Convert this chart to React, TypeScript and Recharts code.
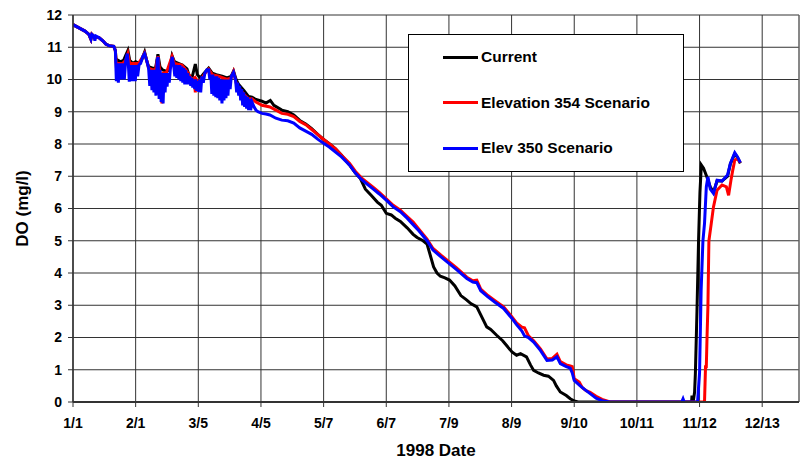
import React from 'react';
import { LineChart, Line, XAxis, YAxis, CartesianGrid, ReferenceLine } from 'recharts';

// [day of 1998 (0 = Jan 1), DO mg/l]
const current: [number, number][] = [
  [0, 11.7], [3, 11.6], [6, 11.5], [8, 11.4], [9, 11.25], [9.5, 11.4], [11, 11.3], [13, 11.3], [15, 11.2],
  [16.5, 11.1], [18, 11.05], [20.5, 11.03], [21.3, 10.9], [21.8, 10.5], [22.5, 10.6], [24, 10.55], [25.5, 10.6],
  [26.5, 10.75], [27.6, 10.9], [28.5, 10.6], [30, 10.5], [31.5, 10.55], [33, 10.5], [34.5, 10.6], [36, 10.85],
  [37, 10.6], [38, 10.4], [40, 10.35], [41.5, 10.35], [42.7, 10.78], [43.7, 10.4], [45, 10.3], [47, 10.25],
  [48.5, 10.3], [49.8, 10.74], [51, 10.55], [53, 10.5], [55, 10.45], [57.3, 10.33], [58.5, 10.1], [60, 10.1],
  [61.5, 10.48], [62.5, 10.15], [64, 10.05], [66, 10.2], [68.2, 10.35], [70, 10.2], [72, 10.15], [75, 10.1],
  [77.4, 10.05], [79.5, 10.1], [80.7, 10.26], [82, 10.0], [83.2, 9.85], [85.8, 9.67], [88.3, 9.47], [90, 9.45],
  [92, 9.38], [95, 9.33], [97, 9.27], [99.2, 9.35], [101, 9.2], [105, 9.05], [108, 9.0], [111, 8.9], [114, 8.73],
  [117, 8.62], [120, 8.48], [123, 8.3], [126, 8.14], [129, 8.0], [132, 7.85], [135, 7.65], [139, 7.35], [142, 7.1],
  [144.5, 6.93], [147, 6.6], [150, 6.4], [153, 6.2], [155, 6.1], [157.5, 5.85], [160, 5.8], [162, 5.7],
  [164.6, 5.6], [168, 5.4], [171, 5.2], [173, 5.1], [176, 5.0], [178, 4.9], [181.3, 4.19], [183, 4.0],
  [184.7, 3.9], [187, 3.85], [189.3, 3.78], [192, 3.6], [195, 3.3], [198, 3.16], [200, 3.05], [203, 2.95],
  [205, 2.7], [208, 2.33], [210, 2.25], [213, 2.07], [216, 1.9], [218, 1.75], [220.7, 1.55], [223, 1.45],
  [225, 1.5], [228, 1.4], [230, 1.15], [231.6, 0.98], [234, 0.9], [236.6, 0.83], [239, 0.8], [241.6, 0.67],
  [243, 0.5], [245, 0.31], [248, 0.2], [250, 0.1], [252, 0.03], [254, 0], [311, 0], [311.2, 0.2], [311.8, 0],
  [312.5, 0.3], [312.9, 0.88], [313.7, 2.8], [314.5, 5.0], [315.2, 6.5], [315.9, 7.35], [317, 7.25],
  [318.7, 6.98], [320.4, 6.67], [322, 6.5], [323.8, 6.85], [326.3, 6.85], [329.1, 7.0], [330.5, 7.38],
  [332.7, 7.7], [334.1, 7.58], [335.5, 7.4],
];

const elev354: [number, number][] = [
  [0, 11.7], [3, 11.6], [6, 11.5], [8, 11.4], [9, 11.25], [9.5, 11.4], [11, 11.3], [13, 11.3], [15, 11.2],
  [16.5, 11.1], [18, 11.05], [20.5, 11.03], [21.3, 10.9], [21.8, 10.4], [23, 10.5], [25, 10.5], [26.5, 10.6],
  [27.6, 10.8], [28.5, 10.5], [31, 10.5], [33, 10.5], [35, 10.7], [36, 10.82], [37, 10.6], [38, 10.35],
  [40, 10.3], [41.5, 10.3], [42.7, 10.72], [43.5, 10.3], [44.7, 9.26], [45.3, 10.2], [47, 10.22], [49.8, 10.72],
  [51, 10.5], [54.8, 10.45], [57.3, 10.25], [59.8, 10.0], [61, 10.05], [61.5, 9.6], [62, 10.0], [63, 9.9],
  [64.9, 10.05], [66.5, 10.2], [68.2, 10.32], [70, 10.15], [73.2, 10.1], [77.4, 10.0], [79.5, 10.05],
  [80.7, 10.24], [82, 9.9], [83.2, 9.75], [85.8, 9.55], [88.3, 9.4], [90, 9.4], [92, 9.3], [95, 9.2],
  [99, 9.15], [102, 9.05], [105, 8.95], [108, 8.92], [111, 8.85], [114, 8.7], [117, 8.6], [120, 8.45],
  [123, 8.3], [126, 8.14], [129, 8.0], [132, 7.85], [135, 7.65], [139, 7.4], [142, 7.15], [145, 6.95],
  [148, 6.8], [151, 6.65], [154, 6.5], [157.5, 6.3], [161, 6.1], [164.6, 5.95], [168, 5.75], [171, 5.58],
  [174, 5.35], [178, 5.05], [181, 4.76], [185, 4.55], [189, 4.35], [193, 4.15], [198, 3.87], [201, 3.76],
  [203, 3.78], [205, 3.5], [208.6, 3.3], [212, 3.15], [216.5, 2.95], [220.7, 2.64], [223, 2.45],
  [225.7, 2.32], [227, 2.3], [229, 2.05], [231.6, 1.9], [235, 1.65], [238.3, 1.33], [241, 1.35],
  [243.3, 1.48], [245, 1.25], [248, 1.15], [250, 1.12], [251, 1.1], [252, 0.72], [254.5, 0.62], [256, 0.45],
  [258, 0.35], [260, 0.3], [263, 0.18], [266, 0.08], [270, 0], [317.5, 0], [318, 1.09], [318.4, 1.09],
  [318.8, 2.1], [319.2, 2.95], [319.7, 5.0], [320.9, 5.54], [322, 6.05], [323.8, 6.57], [326.3, 6.73],
  [328.5, 6.67], [329.6, 6.41], [330.8, 6.88], [331.7, 7.19], [332.7, 7.5], [334.1, 7.55], [335.5, 7.42],
];

const elev350: [number, number][] = [
  [0, 11.7], [3, 11.6], [6, 11.5], [8, 11.4], [9, 11.25], [9.5, 11.4], [10.5, 11.35], [11, 11.2], [11.5, 11.35],
  [13, 11.3], [15, 11.2], [16.5, 11.1], [18, 11.05], [20.5, 11.03], [21.3, 10.9], [21.8, 9.95], [22.3, 10.5],
  [22.8, 9.9], [23.3, 10.5], [23.8, 10.0], [24.3, 10.5], [24.8, 10.0], [25.3, 10.5], [25.8, 10.0], [26.5, 10.6],
  [27.3, 10.8], [27.8, 10.5], [28.3, 9.93], [28.8, 10.45], [29.3, 9.95], [29.8, 10.45], [30.3, 9.95],
  [30.8, 10.45], [31.3, 9.95], [31.8, 10.45], [32.5, 10.1], [33.2, 10.45], [34, 10.5], [35, 10.7], [36, 10.8],
  [37, 10.6], [38, 10.35], [38.6, 9.8], [39.2, 10.3], [39.7, 9.67], [40.2, 10.3], [40.7, 9.6], [41.2, 10.3],
  [41.7, 9.5], [42.3, 10.6], [42.8, 10.7], [43.3, 9.4], [43.8, 10.3], [44.3, 9.3], [44.8, 10.2], [45.3, 9.26],
  [45.8, 10.2], [46.3, 9.6], [46.8, 10.2], [47.3, 9.78], [47.8, 10.2], [48.4, 9.9], [48.9, 10.3], [49.8, 10.7],
  [50.5, 10.5], [51.2, 10.1], [51.7, 10.45], [52.2, 10.05], [52.7, 10.45], [53.2, 10.0], [53.7, 10.45],
  [54.2, 9.95], [54.7, 10.4], [55.2, 9.9], [55.7, 10.35], [56.2, 9.85], [56.7, 10.3], [57.2, 9.85],
  [57.7, 10.2], [58.2, 9.85], [58.7, 10.1], [59.2, 9.8], [59.7, 10.05], [60.2, 9.75], [60.7, 10.0],
  [61.2, 9.7], [61.7, 10.0], [62.2, 9.65], [62.7, 9.95], [63.2, 9.62], [63.7, 10.0], [64.2, 9.6],
  [64.8, 10.1], [65.5, 9.9], [66.3, 10.2], [67.3, 10.3], [68.2, 10.3], [68.8, 10.0], [69.3, 10.15],
  [69.8, 9.55], [70.3, 10.15], [70.8, 9.5], [71.3, 10.1], [71.8, 9.45], [72.3, 10.1], [72.8, 9.42],
  [73.3, 10.05], [73.8, 9.35], [74.3, 10.0], [74.9, 9.26], [75.4, 10.0], [75.9, 9.35], [76.4, 10.0],
  [76.9, 9.42], [77.4, 10.0], [77.9, 9.5], [78.4, 10.0], [79.0, 9.7], [79.6, 10.1], [80.7, 10.22],
  [81.7, 10.0], [82.3, 9.6], [82.8, 9.9], [83.3, 9.5], [83.8, 9.8], [84.3, 9.35], [84.8, 9.7], [85.3, 9.2],
  [85.8, 9.6], [86.3, 9.15], [86.8, 9.5], [87.3, 9.1], [87.8, 9.45], [88.3, 9.05], [88.8, 9.4], [89.3, 9.05],
  [90, 9.3], [91, 9.15], [92, 9.05], [93, 9.0], [95, 8.95], [97, 8.93], [99, 8.9], [102, 8.8], [105, 8.74],
  [108, 8.72], [111, 8.65], [114, 8.5], [117, 8.4], [120, 8.3], [123, 8.15], [126, 8.02], [129, 7.9],
  [132, 7.75], [135, 7.6], [139, 7.35], [142, 7.1], [145, 6.9], [148, 6.75], [151, 6.6], [154, 6.45],
  [157.5, 6.26], [161, 6.05], [164.6, 5.9], [168, 5.7], [171, 5.5], [174, 5.3], [178, 5.0], [181, 4.71],
  [185, 4.5], [189, 4.3], [193, 4.1], [198, 3.83], [201, 3.72], [203, 3.7], [205, 3.45], [208.6, 3.26],
  [212, 3.1], [216.5, 2.9], [220.7, 2.59], [223, 2.4], [225.7, 2.2], [227, 2.05], [229, 2.0], [231.6, 1.86],
  [235, 1.6], [238.3, 1.29], [241, 1.3], [243.3, 1.4], [245, 1.19], [248, 1.1], [250, 1.05], [251, 0.9],
  [252, 0.67], [255, 0.5], [257, 0.4], [260, 0.26], [263, 0.12], [266, 0.04], [270, 0], [306, 0],
  [306.7, 0.1], [307.3, 0], [314, 0], [315, 0.9], [315.8, 3.47], [316.7, 5.0], [317.5, 5.54], [318.4, 6.67],
  [319.2, 6.98], [320.4, 6.6], [322, 6.47], [323.8, 6.88], [326.3, 6.85], [329.1, 7.04], [330.5, 7.4],
  [332.7, 7.73], [334.1, 7.6], [335.5, 7.42],
];

const xTicks = [0, 31.5, 63, 94.5, 126, 157.5, 189, 220.5, 252, 283.5, 315, 346.5];
const xTickLabels = ['1/1', '2/1', '3/5', '4/5', '5/7', '6/7', '7/9', '8/9', '9/10', '10/11', '11/12', '12/13'];
const yTicks = [0, 1, 2, 3, 4, 5, 6, 7, 8, 9, 10, 11, 12];

const seriesNames = ['Current', 'Elevation 354 Scenario', 'Elev 350 Scenario'];
const seriesColors = ['#000000', '#ff0000', '#0000ff'];

const toRows = (arr: [number, number][]) => arr.map(([d, v]) => ({ d, v }));

const FONT = '"Liberation Sans", Arial, Helvetica, sans-serif';

const LegendBox = () => (
  <div
    style={{
      position: 'absolute',
      left: 408,
      top: 34,
      width: 276,
      height: 138,
      boxSizing: 'border-box',
      border: '1px solid #000',
      background: '#fff',
      fontFamily: FONT,
      fontWeight: 'bold',
      fontSize: 15.5,
      color: '#000',
      zIndex: 2,
    }}
  >
    {seriesNames.map((name, i) => (
      <div key={name} style={{ position: 'absolute', left: 34, top: 22 + i * 45.5 - 9, height: 18, display: 'flex', alignItems: 'center' }}>
        <div style={{ width: 35, height: 3, background: seriesColors[i], marginRight: 3 }} />
        <span style={{ whiteSpace: 'nowrap' }}>{name}</span>
      </div>
    ))}
  </div>
);

export default function App() {
  const tickStyle = { fontFamily: FONT, fontWeight: 'bold' as const, fontSize: 14, fill: '#000' };
  return (
    <div style={{ position: 'absolute', left: 0, top: 0, width: 803, height: 461, background: '#fff' }}>
      <LineChart width={803} height={461} margin={{ top: 15, right: 4, bottom: 0, left: 0 }}>
        <CartesianGrid stroke="#333" strokeWidth={1} />
        <XAxis
          type="number"
          dataKey="d"
          domain={[0, 365]}
          ticks={xTicks}
          interval={0}
          tickFormatter={(v: number) => xTickLabels[xTicks.indexOf(v)] ?? ''}
          height={59}
          tickSize={5}
          tickMargin={11}
          tick={tickStyle}
          stroke="#333"
          axisLine={{ stroke: '#333', strokeWidth: 2 }}
          allowDataOverflow
          label={{
            value: '1998 Date',
            position: 'insideBottom',
            offset: 5,
            style: { fontFamily: FONT, fontWeight: 'bold', fontSize: 17, fill: '#000' },
          }}
        />
        <YAxis
          type="number"
          domain={[0, 12]}
          ticks={yTicks}
          interval={0}
          width={73}
          tickSize={5}
          tickMargin={6}
          tick={tickStyle}
          stroke="#333"
          axisLine={{ stroke: '#333', strokeWidth: 1.5 }}
          allowDataOverflow
          label={{
            value: 'DO (mg/l)',
            angle: -90,
            position: 'insideLeft',
            offset: 22,
            style: { fontFamily: FONT, fontWeight: 'bold', fontSize: 17, fill: '#000', textAnchor: 'middle' },
          }}
        />
        <ReferenceLine x={365} stroke="#777" strokeWidth={1} />
        <Line
          data={toRows(current)}
          dataKey="v"
          name={seriesNames[0]}
          type="linear"
          stroke={seriesColors[0]}
          strokeWidth={3}
          dot={false}
          isAnimationActive={false}
        />
        <Line
          data={toRows(elev354)}
          dataKey="v"
          name={seriesNames[1]}
          type="linear"
          stroke={seriesColors[1]}
          strokeWidth={3}
          dot={false}
          isAnimationActive={false}
        />
        <Line
          data={toRows(elev350)}
          dataKey="v"
          name={seriesNames[2]}
          type="linear"
          stroke={seriesColors[2]}
          strokeWidth={3}
          dot={false}
          isAnimationActive={false}
        />
      </LineChart>
      <LegendBox />
    </div>
  );
}
